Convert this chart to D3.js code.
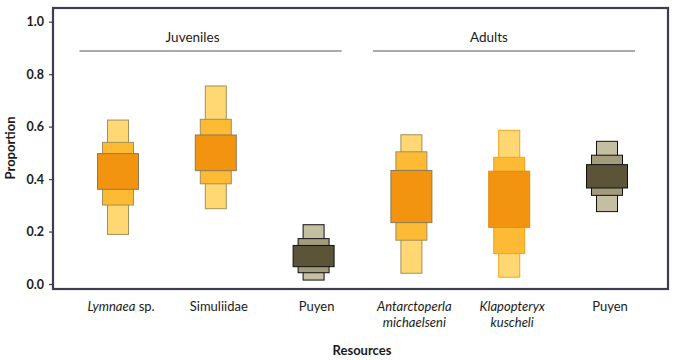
<!DOCTYPE html>
<html><head><meta charset="utf-8">
<script src="https://cdn.jsdelivr.net/npm/d3@7"></script>
<style>body{margin:0;background:#fff}svg{display:block}text{font-family:Lato,"Open Sans",sans-serif;fill:#1a1a1a}</style>
</head><body><svg id="c" width="676" height="360"></svg>
<script>
const categories = ["Lymnaea sp.", "Simuliidae", "Puyen (J)", "Antarctoperla michaelseni", "Klapopteryx kuscheli", "Puyen (A)"];
const labelLines = [[["Lymnaea", true], [" sp.", false]], [["Simuliidae", false]], [["Puyen", false]], [["Antarctoperla", true], ["michaelseni", true]], [["Klapopteryx", true], ["kuscheli", true]], [["Puyen", false]]];
// credible intervals: outer, middle, inner
const outerLo = [0.189, 0.287, 0.015, 0.041, 0.026, 0.276];
const outerHi = [0.625, 0.755, 0.226, 0.569, 0.586, 0.544];
const midLo   = [0.301, 0.382, 0.043, 0.167, 0.116, 0.338];
const midHi   = [0.540, 0.628, 0.173, 0.504, 0.483, 0.491];
const innLo   = [0.361, 0.432, 0.066, 0.234, 0.216, 0.366];
const innHi   = [0.497, 0.568, 0.147, 0.433, 0.430, 0.455];
const kind    = ["orange", "orange", "dark", "orange", "orange2", "dark"];
const groups  = [{name: "Juveniles", from: 0, to: 2, dx: -18}, {name: "Adults", from: 3, to: 5, dx: -15}];
const yTicks  = [0, 0.2, 0.4, 0.6, 0.8, 1.0];

const palette = {
  orange:  {fill: ["#FFD873", "#FDBA35", "#F29410"], stroke: ["#a0905a", "#a0905a", "#8a7a55"]},
  orange2: {fill: ["#FFD873", "#FDBA35", "#F29410"], stroke: ["#F7A21B", "#F7A21B", "#E08A10"]},
  dark:    {fill: ["#C4BEA2", "#A29C7C", "#5B5438"], stroke: ["#111", "#111", "#111"]}
};

const svg = d3.select("#c");
const L = 53, R = 668, T = 8, B = 289;
const y = d3.scaleLinear().domain([0, 1]).range([284, 21.7]);
const x = d3.scalePoint().domain(categories).range([118, 607]);

// frame
svg.append("rect").attr("x", L).attr("y", T).attr("width", R - L).attr("height", B - T)
  .attr("fill", "none").attr("stroke", "#3c3d50").attr("stroke-width", 2.2);

// y axis
const ya = svg.append("g").attr("transform", `translate(${L},0)`)
  .call(d3.axisLeft(y).tickValues(yTicks).tickFormat(d3.format(".1f")).tickSize(4).tickPadding(5));
ya.select(".domain").remove();
ya.selectAll(".tick line").attr("stroke", "#3c3d50").attr("stroke-width", 1.2);
ya.selectAll(".tick text").style("font-size", "12.5px").style("font-weight", "bold").attr("fill", "#1a1a1a")
  .style("font-family", "Lato, sans-serif");

svg.append("text").attr("transform", "translate(15,148) rotate(-90)").attr("text-anchor", "middle")
  .style("font-size", "13px").style("font-weight", "bold").text("Proportion");

// group headers
groups.forEach(g => {
  const lx0 = x(categories[g.from]) - 38.5, lx1 = x(categories[g.to]) + 28;
  svg.append("line").attr("x1", lx0).attr("x2", lx1).attr("y1", 51).attr("y2", 51)
    .attr("stroke", "#8c8c94").attr("stroke-width", 1.5);
  svg.append("text").attr("x", (lx0 + lx1) / 2 + g.dx).attr("y", 42)
    .attr("text-anchor", "middle").style("font-size", "13.5px").text(g.name);
});

// boxes
const widths = [21, 31, 41];
const levels = [[outerLo, outerHi], [midLo, midHi], [innLo, innHi]];
categories.forEach((c, i) => {
  const pal = palette[kind[i]];
  levels.forEach((lv, k) => {
    const lo = lv[0][i], hi = lv[1][i];
    svg.append("rect")
      .attr("x", x(c) - widths[k] / 2).attr("width", widths[k])
      .attr("y", y(hi)).attr("height", y(lo) - y(hi))
      .attr("fill", pal.fill[k]).attr("stroke", pal.stroke[k]).attr("stroke-width", 1);
  });
});

// x labels
categories.forEach((c, i) => {
  const lines = labelLines[i];
  const multi = lines.length === 2 && lines[0][1] && lines[1][1];
  if (multi) {
    lines.forEach((ln, j) => {
      svg.append("text").attr("x", x(c) + 3).attr("y", 311 + j * 16).attr("text-anchor", "middle")
        .style("font-size", "13px").style("font-style", "italic").text(ln[0]);
    });
  } else {
    const t = svg.append("text").attr("x", x(c) + 3).attr("y", 311).attr("text-anchor", "middle").style("font-size", "13px");
    lines.forEach(ln => t.append("tspan").style("font-style", ln[1] ? "italic" : "normal").text(ln[0]));
  }
});

svg.append("text").attr("x", 362).attr("y", 355).attr("text-anchor", "middle")
  .style("font-size", "13px").style("font-weight", "bold").text("Resources");
</script></body></html>
